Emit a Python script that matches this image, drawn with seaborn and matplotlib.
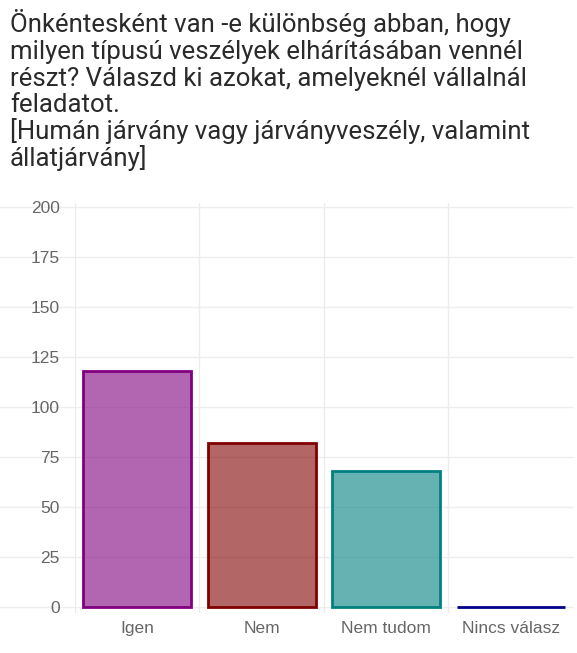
import pandas as pd
import seaborn as sns
import matplotlib.pyplot as plt
from matplotlib.colors import to_rgba

# Adatok
valaszok = ['Igen', 'Nem', 'Nem tudom', 'Nincs válasz']
darab = [118, 82, 68, 0]
szinek = ['#800080', '#800000', '#008080', '#00008b']
y_tickek = [0, 25, 50, 75, 100, 125, 150, 175, 200]

cim_sorok = ['Önkéntesként van -e különbség abban, hogy',
             'milyen típusú veszélyek elhárításában vennél',
             'részt? Válaszd ki azokat, amelyeknél vállalnál',
             'feladatot.',
             '[Humán járvány vagy járványveszély, valamint',
             'állatjárvány]']

df = pd.DataFrame({'valasz': valaszok, 'darab': darab})

sns.set_style('white')
plt.rcParams['font.family'] = ['Liberation Sans', 'DejaVu Sans']

fig = plt.figure(figsize=(5.77, 6.53), dpi=100)
ax = fig.add_axes([0.13, 0.0617, 0.863, 0.628])

sns.barplot(data=df, x='valasz', y='darab', hue='valasz', palette=szinek,
            legend=False, width=0.87, ax=ax, zorder=3)

# Kitöltés átlátszóan, keret teljes színnel
for patch, szin in zip(ax.patches, szinek):
    patch.set_facecolor(to_rgba(szin, 0.6))
    patch.set_edgecolor(szin)
    patch.set_linewidth(2.0)
    patch.set_clip_on(False)

ax.set_xlim(-0.5, 3.5)
ax.set_ylim(-3, 202)
ax.set_yticks(y_tickek)
ax.set_yticklabels([str(t) for t in y_tickek])

# Rácsvonalak
for t in y_tickek:
    ax.axhline(t, xmin=-75 / 498, xmax=1, color='#eeeeee', lw=1, clip_on=False, zorder=0)
for xb in [-0.5, 0.5, 1.5, 2.5]:
    ax.axvline(xb, color='#ececec', lw=1, zorder=0)

for s in ax.spines.values():
    s.set_visible(False)

ax.set_xlabel('')
ax.set_ylabel('')
ax.tick_params(axis='y', length=0, pad=11, labelsize=12.5, labelcolor='#666666')
ax.tick_params(axis='x', length=0, pad=6, labelsize=12.5, labelcolor='#666666')

# Cím soronként, egyenletes sorközzel
for i, sor in enumerate(cim_sorok):
    alapvonal = 32 + i * 26.8
    fig.text(0.017, 1 - alapvonal / 653, sor, ha='left', va='baseline', fontsize=18.5,
             family=['Roboto', 'DejaVu Sans'], color='#2a2a2a')

fig.savefig('out.png', dpi=100)
